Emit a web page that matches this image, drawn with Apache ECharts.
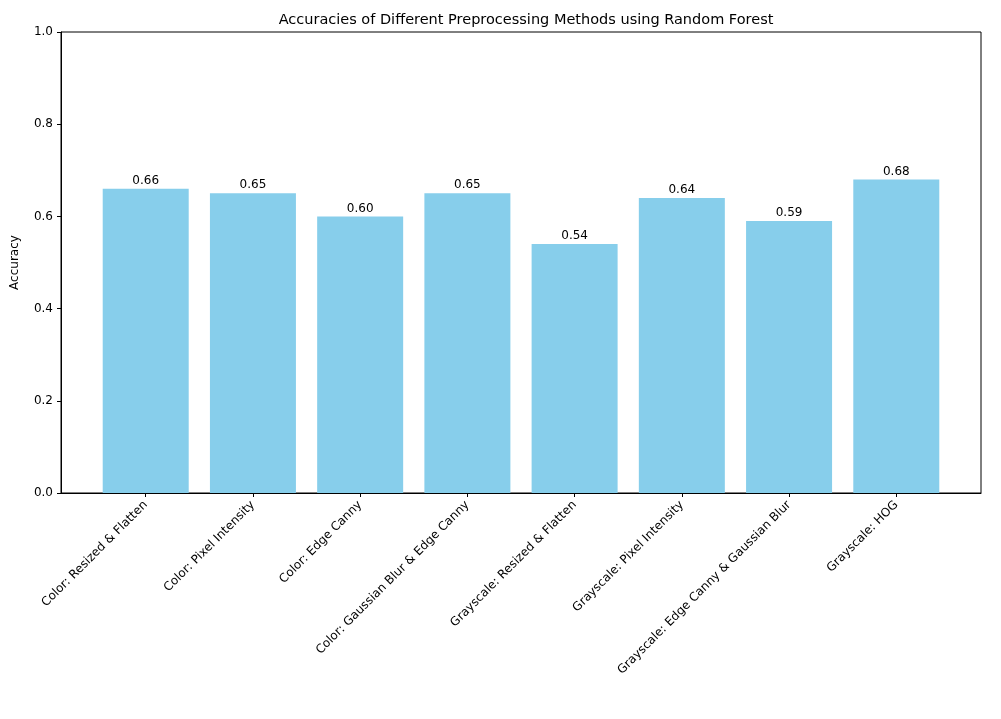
<!DOCTYPE html>
<html>
<head>
<meta charset="utf-8">
<script src="https://cdn.jsdelivr.net/npm/echarts@6/dist/echarts.min.js"></script>
<style>html,body{margin:0;padding:0;background:#fff}#chart{width:1001px;height:719px}</style>
</head>
<body>
<div id="chart"></div>
<script>
// categories and accuracies
const categories = [
  'Color: Resized & Flatten',
  'Color: Pixel Intensity',
  'Color: Edge Canny',
  'Color: Gaussian Blur & Edge Canny',
  'Grayscale: Resized & Flatten',
  'Grayscale: Pixel Intensity',
  'Grayscale: Edge Canny & Gaussian Blur',
  'Grayscale: HOG'
];
const accuracies = [0.66, 0.65, 0.60, 0.65, 0.54, 0.64, 0.59, 0.68];

const font = 'DejaVu Sans';
const chart = echarts.init(document.getElementById('chart'));
chart.setOption({
  animation: false,
  textStyle: { fontFamily: font },
  title: {
    text: 'Accuracies of Different Preprocessing Methods using Random Forest',
    left: 521, top: 8, textAlign: 'center',
    textStyle: { fontSize: 14.5, fontWeight: 'normal', color: '#000', fontFamily: font }
  },
  grid: { left: 61, right: 20, top: 32, bottom: 226, show: true, borderColor: '#000', borderWidth: 1 },
  xAxis: {
    type: 'value', min: -0.79, max: 7.79,
    splitLine: { show: false },
    axisLine: { onZero: false, lineStyle: { color: '#000' } },
    axisTick: { customValues: categories.map((c, i) => i), lineStyle: { color: '#000' }, length: 4 },
    axisLabel: {
      customValues: categories.map((c, i) => i),
      formatter: v => categories[Math.round(v)],
      rotate: 45, color: '#000', fontSize: 12, margin: 10
    }
  },
  yAxis: {
    type: 'value', min: 0, max: 1, interval: 0.2,
    name: 'Accuracy', nameLocation: 'middle', nameGap: 40,
    nameTextStyle: { color: '#000', fontSize: 12 },
    splitLine: { show: false },
    axisLine: { show: true, onZero: false, lineStyle: { color: '#000' } },
    axisTick: { show: true, length: 4, lineStyle: { color: '#000' } },
    axisLabel: { color: '#000', fontSize: 12, formatter: v => v.toFixed(1) }
  },
  series: [{
    type: 'bar',
    data: accuracies.map((v, i) => [i, v]),
    barWidth: 86,
    itemStyle: { color: '#87CEEB' },
    label: { show: true, position: 'top', distance: 2, color: '#000', fontSize: 12, formatter: p => p.value[1].toFixed(2) }
  }]
});
</script>
</body>
</html>
